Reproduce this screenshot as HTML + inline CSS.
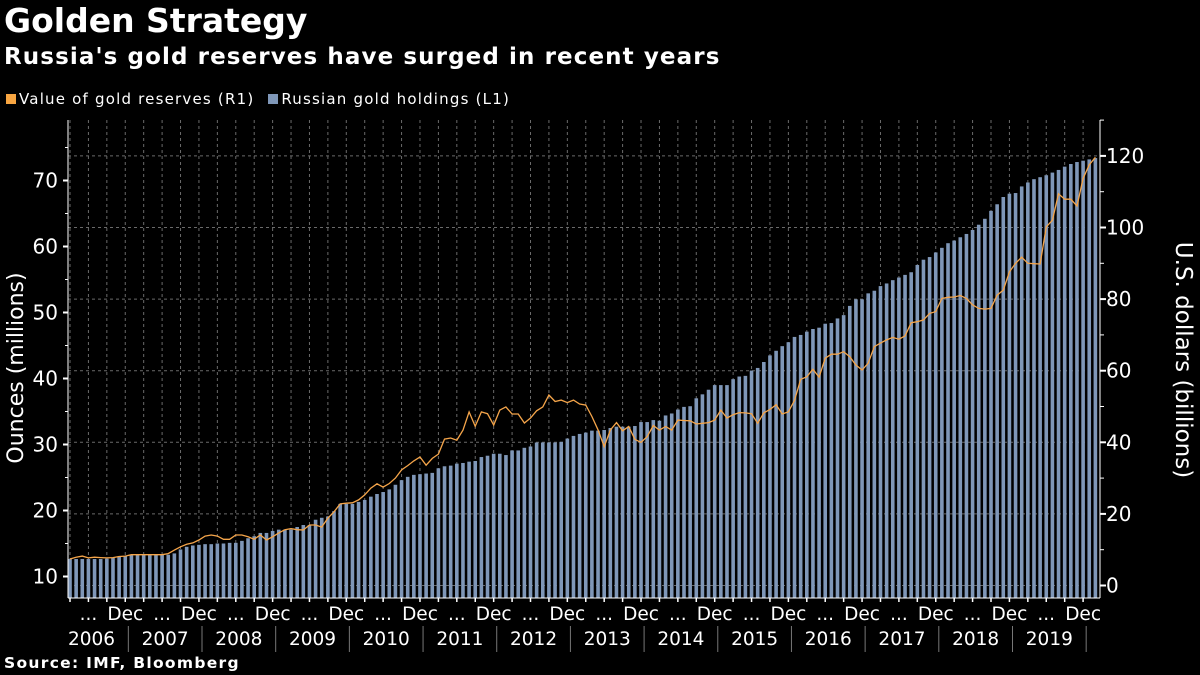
<!DOCTYPE html>
<html><head><meta charset="utf-8">
<style>
html,body{margin:0;padding:0;background:#000;}
body{width:1200px;height:675px;overflow:hidden;font-family:"DejaVu Sans","Liberation Sans",sans-serif;color:#fff;position:relative;}
.t{position:absolute;left:4px;white-space:nowrap;font-family:"DejaVu Sans","Liberation Sans",sans-serif;font-weight:bold;}
</style></head><body>
<div class="t" style="top:1px;font-size:33px;">Golden Strategy</div>
<div class="t" style="top:44px;font-size:23px;letter-spacing:1.1px;">Russia's gold reserves have surged in recent years</div>
<div style="position:absolute;top:90px;left:6px;font-family:'DejaVu Sans',sans-serif;font-size:15px;letter-spacing:1.2px;white-space:nowrap;">
<span><span style="display:inline-block;width:10px;height:10px;background:#f7a541;margin-right:3px;"></span>Value of gold reserves (R1)</span>
<span style="margin-left:8px;"><span style="display:inline-block;width:10px;height:10px;background:#7f97b8;margin-right:3px;"></span>Russian gold holdings (L1)</span>
</div>
<div class="t" style="top:654px;font-size:15.5px;letter-spacing:1.3px;">Source: IMF, Bloomberg</div>
<svg id="chart" width="1200" height="675" style="position:absolute;left:0;top:0;" xmlns="http://www.w3.org/2000/svg"></svg>
<script>
const holdings=[12.65,12.65,12.65,12.65,12.65,12.65,12.7,12.8,13.0,13.1,13.25,13.3,13.3,13.3,13.3,13.3,13.3,13.5,14.1,14.5,14.7,14.8,14.9,14.9,15.0,15.0,15.1,15.1,15.4,15.8,16.1,16.6,16.6,16.9,17.1,17.1,17.1,17.5,17.8,17.8,18.6,18.9,19.1,19.9,21.0,21.0,21.0,21.3,21.6,22.1,22.5,22.8,23.2,23.9,24.6,25.1,25.4,25.5,25.6,25.7,26.4,26.7,26.8,27.1,27.2,27.4,27.5,28.1,28.3,28.6,28.6,28.4,29.1,29.1,29.5,29.7,30.3,30.3,30.3,30.3,30.4,30.9,31.3,31.6,31.8,32.1,32.1,32.2,32.5,32.7,32.7,32.7,32.8,33.4,33.4,33.7,33.6,34.4,34.7,35.3,35.7,35.8,37.0,37.6,38.3,39.0,39.0,39.0,39.9,40.3,40.4,41.2,41.6,42.5,43.5,44.2,44.9,45.5,46.3,46.6,47.1,47.5,47.7,48.3,48.4,49.1,49.6,51.0,52.0,52.0,52.9,53.3,54.0,54.4,54.9,55.3,55.7,56.1,57.2,58.0,58.4,59.1,59.8,60.5,60.9,61.4,61.9,62.5,63.3,64.2,65.4,66.4,67.5,68.0,68.1,69.1,69.7,70.2,70.5,70.8,71.2,71.6,72.1,72.5,72.8,73.0,73.2,73.4];
const values=[7.4,7.9,8.2,7.7,7.9,7.8,7.7,7.8,8.1,8.2,8.6,8.6,8.6,8.6,8.6,8.6,8.9,9.9,10.8,11.5,11.9,12.7,13.8,14.1,13.8,12.9,12.9,14.1,14.1,13.6,12.9,14.1,12.7,13.6,14.7,15.6,15.9,15.6,15.5,16.9,16.9,16.3,18.8,20.6,22.8,23.0,23.1,23.9,25.3,27.2,28.4,27.5,28.5,30.0,32.3,33.5,34.8,35.9,33.6,35.5,36.7,40.9,41.2,40.6,43.4,48.5,44.5,48.5,48.0,44.8,49.0,49.9,47.9,47.9,45.4,46.8,48.8,49.9,53.2,51.4,51.8,51.1,51.8,50.7,50.4,47.2,43.5,38.8,43.4,45.5,43.2,44.4,40.8,40.0,41.6,44.7,43.4,44.4,43.4,46.2,46.1,46.0,45.1,45.3,45.5,46.2,49.0,46.8,47.7,48.3,48.2,48.0,45.3,48.2,49.2,50.5,47.9,48.5,51.7,57.6,58.3,60.4,58.2,63.5,64.6,64.6,65.3,63.9,61.6,60.2,62.1,66.7,67.7,68.6,69.3,68.8,69.7,73.4,73.7,74.2,76.0,76.5,80.2,80.5,80.6,81.0,80.2,78.4,77.4,77.2,77.4,81.1,82.5,87.6,90.0,91.7,90.0,89.9,89.8,100.2,102.0,109.4,107.9,107.9,106.0,113.7,117.5,119.6];
const leftTicks=[10,20,30,40,50,60,70];
const rightTicks=[0,20,40,60,80,100,120];
const yearLabels=["2006","2007","2008","2009","2010","2011","2012","2013","2014","2015","2016","2017","2018","2019"];
const startMonthOffset=2; // first bar = March 2006

const svg=document.getElementById('chart');
const NS='http://www.w3.org/2000/svg';
const FONT='DejaVu Sans, sans-serif';
const X0=70, STEP=6.14, TOP=120, BOT=598, LAX=68, RAX=1100;
const xM=m=>X0+m*STEP;
const yL=v=>576.5-(v-10)*6.6;
const yR=v=>585.5-v*3.58;
function mk(tag,attrs,parent){const e=document.createElementNS(NS,tag);for(const k in attrs)e.setAttribute(k,attrs[k]);(parent||svg).appendChild(e);return e;}
const n=holdings.length;
const grid=mk('g',{});


for(let m=0;m<n;m++){ if((m+startMonthOffset)%3===2){ mk('line',{x1:xM(m),x2:xM(m),y1:TOP,y2:BOT,stroke:'#6a6a6a','stroke-width':1,'stroke-dasharray':'3,3'},grid);} }
rightTicks.forEach(v=>{mk('line',{x1:LAX,x2:RAX,y1:yR(v),y2:yR(v),stroke:'#6a6a6a','stroke-width':1,'stroke-dasharray':'3,3'},grid);});
const bars=mk('g',{});


holdings.forEach((v,m)=>{const y=yL(v);const r=mk('rect',{x:xM(m)-1.8,y:y,width:3.6,height:BOT-y,fill:'#7f97b8'},bars);

});
const pts=values.map((v,m)=>xM(m).toFixed(1)+','+yR(v).toFixed(1)).join(' ');
const pl=mk('polyline',{points:pts,fill:'none',stroke:'#f5a54a','stroke-width':1.3});


const la=mk('g',{});


mk('line',{x1:LAX,x2:LAX,y1:TOP,y2:BOT,stroke:'#fff','stroke-width':1},la);
for(let v=10;v<=75;v+=5){const y=yL(v);mk('line',{x1:LAX-(v%10===0?5:3),x2:LAX,y1:y,y2:y,stroke:'#fff','stroke-width':v%10===0?2:1},la);}
leftTicks.forEach(v=>{const t=mk('text',{x:58,y:yL(v)+7,'text-anchor':'end',fill:'#fff','font-size':20,'font-family':FONT},la);t.textContent=v;

});
const ra=mk('g',{});


mk('line',{x1:RAX,x2:RAX,y1:TOP,y2:BOT,stroke:'#fff','stroke-width':1},ra);
for(let v=0;v<=130;v+=10){const y=yR(v);mk('line',{x1:RAX,x2:RAX+(v%20===0?6:4),y1:y,y2:y,stroke:'#fff','stroke-width':v%20===0?2:1},ra);}
rightTicks.forEach(v=>{const t=mk('text',{x:1106,y:yR(v)+7,'text-anchor':'start',fill:'#fff','font-size':20,'font-family':FONT},ra);t.textContent=v;

});
const xa=mk('g',{});


mk('line',{x1:LAX,x2:RAX,y1:BOT,y2:BOT,stroke:'#fff','stroke-width':1},xa);
for(let m=0;m<n;m++){const cal=(m+startMonthOffset)%12;
 if(cal%3===2) mk('line',{x1:xM(m),x2:xM(m),y1:BOT,y2:BOT+4,stroke:'#fff','stroke-width':1.5},xa);
 if(cal===11||cal===5){const t=mk('text',{x:xM(m),y:620,'text-anchor':'middle',fill:'#fff','font-size':18.5,'font-family':FONT},xa);
  t.textContent=cal===11?'Dec':'...';
  
  }
 if(cal===11 && m<n-1) mk('line',{x1:xM(m)+STEP/2,x2:xM(m)+STEP/2,y1:626,y2:652,stroke:'#777','stroke-width':1},xa);
}
yearLabels.forEach((yl,i)=>{const mid=i*12+6-startMonthOffset-0.5;const t=mk('text',{x:xM(mid),y:645,'text-anchor':'middle',fill:'#fff','font-size':18.5,'font-family':FONT},xa);t.textContent=yl;

});
const lt=mk('text',{x:0,y:0,transform:'translate(23,368) rotate(-90)','text-anchor':'middle',fill:'#fff','font-size':22,'font-family':FONT});
lt.textContent='Ounces (millions)';


const rt=mk('text',{x:0,y:0,transform:'translate(1176,360) rotate(90)','text-anchor':'middle',fill:'#fff','font-size':23,'font-family':FONT});
rt.textContent='U.S. dollars (billions)';


</script>
</body></html>
